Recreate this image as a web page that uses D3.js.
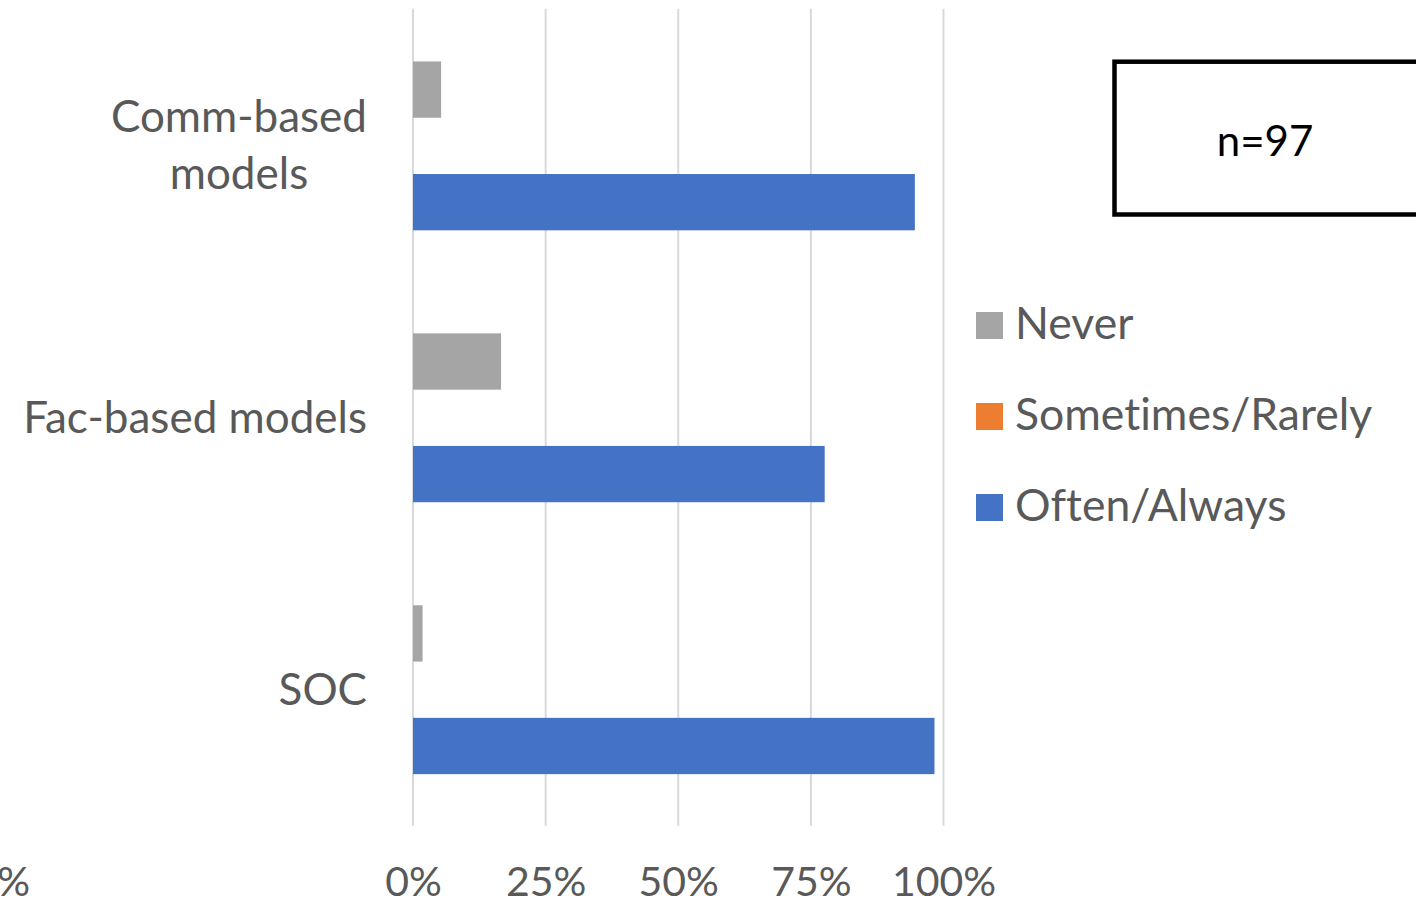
<!DOCTYPE html>
<html>
<head>
<meta charset="utf-8">
<script src="https://cdn.jsdelivr.net/npm/d3@7"></script>
<style>
  html, body { margin: 0; padding: 0; background: #fff; overflow: hidden; }
  svg { display: block; }
  text { font-family: Lato, "Open Sans", sans-serif; font-variant-ligatures: none; }
</style>
</head>
<body>
<svg id="chart" width="1416" height="905"></svg>
<script>
// Share of respondents by frequency of use, per model type
const categories = ["Comm-based models", "Fac-based models", "SOC"];
const categoryLines = [["Comm-based", "models"], ["Fac-based models"], ["SOC"]];
const seriesNames = ["Never", "Sometimes/Rarely", "Often/Always"];
const neverValues = [5.3, 16.6, 1.8];
const sometimesValues = [0, 0, 0];
const oftenValues = [94.6, 77.6, 98.3];
const tickValues = [0, 25, 50, 75, 100];
const sampleNote = "n=97";
const neighbourTick = "100%";

const colors = ["#A5A5A5", "#ED7D31", "#4472C4"];
const seriesValues = [neverValues, sometimesValues, oftenValues];

const rows = categories.map((c, i) => ({
  category: c,
  lines: categoryLines[i],
  values: seriesNames.map((s, j) => ({ series: s, value: seriesValues[j][i], color: colors[j] }))
}));

const svg = d3.select("#chart");
const plot = { left: 413, right: 943.5, top: 9.8, bottom: 825.8 };

const x = d3.scaleLinear().domain([0, 100]).range([plot.left, plot.right]);
const y = d3.scaleBand().domain(categories).range([plot.top, plot.bottom])
  .paddingInner(0.379).paddingOuter(0.19);
const ySub = d3.scaleBand().domain(seriesNames).range([0, y.bandwidth()]);

// Vertical gridlines
svg.append("g").selectAll("line").data(tickValues).join("line")
  .attr("x1", d => x(d)).attr("x2", d => x(d))
  .attr("y1", plot.top - 1).attr("y2", plot.bottom)
  .attr("stroke", "#D9D9D9").attr("stroke-width", 2);

// Bars
const groups = svg.append("g").selectAll("g").data(rows).join("g")
  .attr("transform", d => `translate(0,${y(d.category)})`);
groups.selectAll("rect").data(d => d.values).join("rect")
  .attr("x", x(0))
  .attr("y", d => ySub(d.series))
  .attr("width", d => x(d.value) - x(0))
  .attr("height", ySub.bandwidth())
  .attr("fill", d => d.color);

// Category labels: block right-aligned to the axis, lines centred within the block
const labelSize = 44;
const lineGap = 57;
const labelRight = 367;
const labels = svg.append("g").selectAll("text").data(rows).join("text")
  .attr("text-anchor", "middle")
  .attr("font-size", labelSize)
  .attr("fill", "#595959");
labels.each(function(d) {
  const cy = y(d.category) + y.bandwidth() / 2;
  const n = d.lines.length;
  const firstBaseline = cy - (n - 1) * lineGap / 2 + labelSize * 0.34;
  const t = d3.select(this);
  const spans = t.selectAll("tspan").data(d.lines).join("tspan")
    .attr("y", (l, k) => firstBaseline + k * lineGap)
    .text(l => l);
  let maxW = 0;
  spans.each(function() { maxW = Math.max(maxW, this.getComputedTextLength()); });
  spans.attr("x", labelRight - maxW / 2);
});

// X axis tick labels
const tickSize = 41;
const xAxis = d3.axisBottom(x).tickValues(tickValues).tickFormat(d => d + "%").tickSize(0).tickPadding(0);
const axisG = svg.append("g").attr("transform", "translate(0,896)").call(xAxis);
axisG.select(".domain").remove();
axisG.selectAll("text")
  .attr("dy", 0).attr("y", 0)
  .attr("font-size", tickSize)
  .attr("font-family", "Lato, 'Open Sans', sans-serif")
  .attr("fill", "#595959");

// Tick label from the neighbouring panel, cut by the left edge
svg.append("text")
  .attr("x", 30).attr("y", 896)
  .attr("text-anchor", "end")
  .attr("font-size", tickSize)
  .attr("fill", "#595959")
  .text(neighbourTick);

// Legend
const legend = svg.append("g").selectAll("g").data(seriesNames).join("g")
  .attr("transform", (d, i) => `translate(976,${312 + i * 91})`);
legend.append("rect")
  .attr("width", 27).attr("height", 27)
  .attr("fill", (d, i) => colors[i]);
legend.append("text")
  .attr("x", 39).attr("y", 27)
  .attr("font-size", 44.5)
  .attr("fill", "#595959")
  .text(d => d);

// Sample size box
svg.append("rect")
  .attr("x", 1114.5).attr("y", 61.7)
  .attr("width", 304).attr("height", 152.8)
  .attr("fill", "none")
  .attr("stroke", "#000").attr("stroke-width", 4.5);
svg.append("text")
  .attr("x", 1265).attr("y", 156)
  .attr("text-anchor", "middle")
  .attr("font-size", 42)
  .attr("fill", "#000")
  .text(sampleNote);
</script>
</body>
</html>
